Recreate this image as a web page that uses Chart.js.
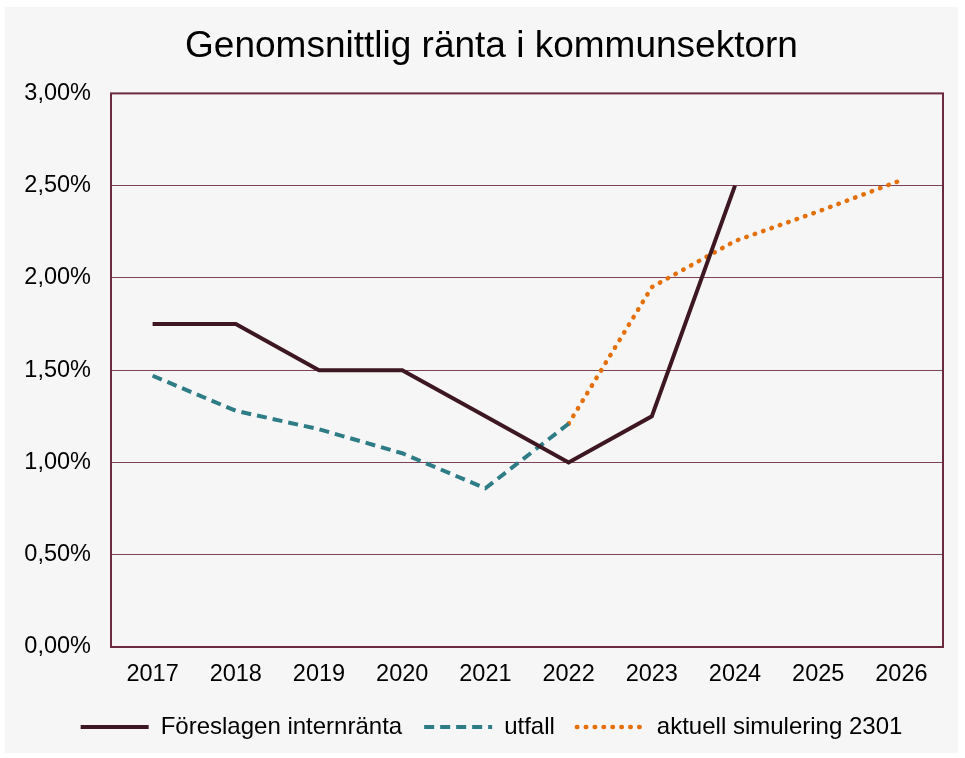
<!DOCTYPE html>
<html>
<head>
<meta charset="utf-8">
<script src="https://cdn.jsdelivr.net/npm/chart.js@4.4.1/dist/chart.umd.min.js"></script>
<style>
  html, body { margin: 0; padding: 0; background: #fff; overflow: hidden; }
  .frame { position: absolute; left: 5px; top: 7px; width: 953px; height: 746px; background: #f6f6f6; }
  canvas { display: block; }
</style>
</head>
<body>
<div class="frame"><canvas id="rateChart" width="953" height="746"></canvas></div>
<script>
const years = ['2017', '2018', '2019', '2020', '2021', '2022', '2023', '2024', '2025', '2026'];
const internranta = [1.75, 1.75, 1.5, 1.5, 1.25, 1.0, 1.25, 2.5, null, null];
const utfall = [1.47, 1.28, 1.18, 1.05, 0.86, 1.21, null, null, null, null];
const simulering = [null, null, null, null, null, 1.21, 1.95, 2.2, 2.36, 2.53];
const yTicks = [0, 0.5, 1, 1.5, 2, 2.5, 3];

const FONT = '"Liberation Sans", Arial, sans-serif';

// ram runt hela ritytan
const plotBorder = {
    id: 'plotBorder',
    afterDatasetsDraw(chart) {
        const { ctx, chartArea: a } = chart;
        ctx.save();
        ctx.strokeStyle = '#6b2a3e';
        ctx.lineWidth = 2;
        ctx.strokeRect(a.left, a.top, a.right - a.left, a.bottom - a.top);
        ctx.restore();
    }
};

// legenden tappar streckmönstret med usePointStyle, så det läggs på igen här
function legendLabels(chart) {
    const items = Chart.defaults.plugins.legend.labels.generateLabels(chart);
    return items.map(item => {
        const ds = chart.data.datasets[item.datasetIndex];
        item.pointStyle = 'line';
        item.lineDash = ds.borderDash || [];
        item.lineCap = ds.borderCapStyle || 'butt';
        item.lineWidth = ds.borderWidth;
        item.strokeStyle = ds.borderColor;
        return item;
    });
}

const ctx = document.getElementById('rateChart').getContext('2d');
const rateChart = new Chart(ctx, {
    type: 'line',
    data: {
        labels: years,
        datasets: [{
            label: 'Föreslagen internränta',
            data: internranta,
            borderColor: '#3d1721',
            backgroundColor: '#3d1721',
            borderWidth: 4,
            pointRadius: 0,
            tension: 0
        }, {
            label: 'utfall',
            data: utfall,
            borderColor: '#2e7c86',
            backgroundColor: '#2e7c86',
            borderWidth: 4,
            borderDash: [10, 6],
            pointRadius: 0,
            tension: 0
        }, {
            label: 'aktuell simulering 2301',
            data: simulering,
            borderColor: '#e3700a',
            backgroundColor: '#e3700a',
            borderWidth: 4.5,
            borderDash: [0.5, 8.4],
            borderCapStyle: 'round',
            pointRadius: 0,
            tension: 0
        }]
    },
    options: {
        responsive: false,
        animation: false,
        layout: { padding: { left: 20, right: 0, top: 0, bottom: 4 } },
        plugins: {
            title: {
                display: true,
                text: 'Genomsnittlig ränta i kommunsektorn',
                color: '#000',
                font: { family: FONT, size: 37, weight: 'normal' },
                padding: { top: 18, bottom: 24 }
            },
            legend: {
                position: 'bottom',
                labels: {
                    color: '#000',
                    font: { family: FONT, size: 24 },
                    usePointStyle: true,
                    pointStyleWidth: 68,
                    padding: 22,
                    generateLabels: legendLabels
                }
            },
            tooltip: { enabled: false }
        },
        scales: {
            x: {
                offset: true,
                grid: { display: false, drawTicks: false },
                border: { display: false },
                ticks: { color: '#000', font: { family: FONT, size: 23.5 }, padding: 13 },
                afterFit: (s) => { s.height = 46; }
            },
            y: {
                min: 0,
                max: 3,
                afterBuildTicks: (s) => { s.ticks = yTicks.map(v => ({ value: v })); },
                grid: { color: '#7d4257', lineWidth: 1, drawTicks: false },
                border: { display: false },
                ticks: {
                    color: '#000',
                    font: { family: FONT, size: 23.5 },
                    padding: 20,
                    callback: (v) => v.toFixed(2).replace('.', ',') + '%'
                },
                afterFit: (s) => { s.width = 86; }
            },
            // tom axel till höger som bara ger marginal
            yRight: {
                position: 'right',
                grid: { display: false, drawTicks: false },
                border: { display: false },
                ticks: { display: false },
                afterFit: (s) => { s.width = 15; }
            }
        }
    },
    plugins: [plotBorder]
});
</script>
</body>
</html>
